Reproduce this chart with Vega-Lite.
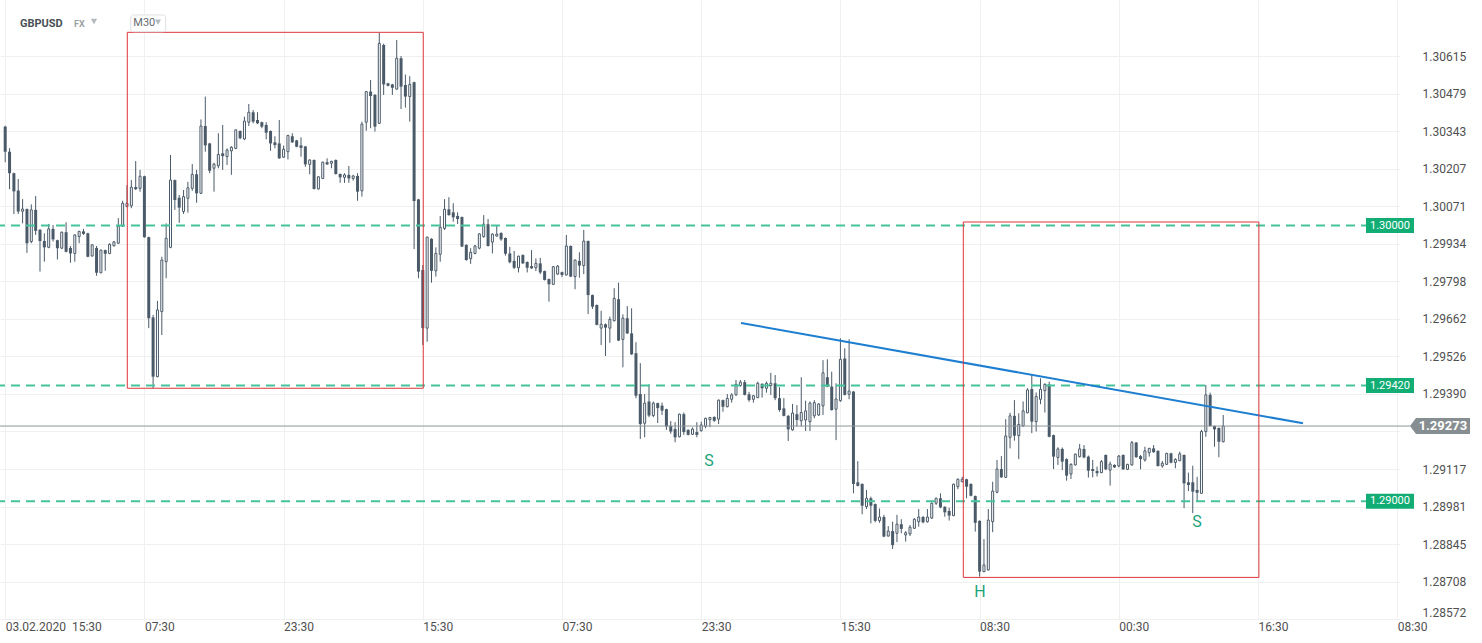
{
"$schema":"https://vega.github.io/schema/vega-lite/v6.json",
"width":1400,"height":620,
"autosize":{"type":"none"},
"padding":{"left":0,"top":0,"right":82,"bottom":23},
"background":"#ffffff",
"config":{"view":{"stroke":null},"axis":{"labelFont":"Roboto","labelFontSize":12,"labelColor":"#505050","gridColor":"#f0f0f0","gridWidth":1,"domain":false,"ticks":false}},
"datasets":{
"candles":[
{"i":0,"o":1.30359,"h":1.30362,"l":1.30230,"c":1.30268},
{"i":1,"o":1.30268,"h":1.30281,"l":1.30132,"c":1.30190},
{"i":2,"o":1.30190,"h":1.30192,"l":1.30042,"c":1.30124},
{"i":3,"o":1.30127,"h":1.30169,"l":1.30042,"c":1.30051},
{"i":4,"o":1.30052,"h":1.30096,"l":1.30008,"c":1.30060},
{"i":5,"o":1.30060,"h":1.30062,"l":1.29901,"c":1.29936},
{"i":6,"o":1.29942,"h":1.30077,"l":1.29936,"c":1.30057},
{"i":7,"o":1.30057,"h":1.30107,"l":1.29966,"c":1.29981},
{"i":8,"o":1.29985,"h":1.29987,"l":1.29833,"c":1.29944},
{"i":9,"o":1.29944,"h":1.29972,"l":1.29869,"c":1.29921},
{"i":10,"o":1.29921,"h":1.30006,"l":1.29918,"c":1.29988},
{"i":11,"o":1.29988,"h":1.30002,"l":1.29942,"c":1.29950},
{"i":12,"o":1.29947,"h":1.29949,"l":1.29877,"c":1.29918},
{"i":13,"o":1.29918,"h":1.29978,"l":1.29915,"c":1.29976},
{"i":14,"o":1.29976,"h":1.30012,"l":1.29903,"c":1.29905},
{"i":15,"o":1.29919,"h":1.29926,"l":1.29865,"c":1.29899},
{"i":16,"o":1.29899,"h":1.29968,"l":1.29869,"c":1.29966},
{"i":17,"o":1.29960,"h":1.29981,"l":1.29936,"c":1.29979},
{"i":18,"o":1.29979,"h":1.29988,"l":1.29966,"c":1.29970},
{"i":19,"o":1.29972,"h":1.29974,"l":1.29885,"c":1.29887},
{"i":20,"o":1.29890,"h":1.29932,"l":1.29887,"c":1.29930},
{"i":21,"o":1.29919,"h":1.29926,"l":1.29818,"c":1.29829},
{"i":22,"o":1.29829,"h":1.29913,"l":1.29827,"c":1.29911},
{"i":23,"o":1.29911,"h":1.29913,"l":1.29836,"c":1.29898},
{"i":24,"o":1.29899,"h":1.29936,"l":1.29896,"c":1.29932},
{"i":25,"o":1.29927,"h":1.29944,"l":1.29924,"c":1.29941},
{"i":26,"o":1.29936,"h":1.30027,"l":1.29934,"c":1.29998},
{"i":27,"o":1.29998,"h":1.30090,"l":1.29995,"c":1.30081},
{"i":28,"o":1.30069,"h":1.30147,"l":1.30067,"c":1.30081},
{"i":29,"o":1.30072,"h":1.30165,"l":1.30063,"c":1.30139},
{"i":30,"o":1.30140,"h":1.30234,"l":1.30129,"c":1.30132},
{"i":31,"o":1.30135,"h":1.30202,"l":1.30123,"c":1.30179},
{"i":32,"o":1.30179,"h":1.30181,"l":1.29956,"c":1.29958},
{"i":33,"o":1.29958,"h":1.29960,"l":1.29628,"c":1.29664},
{"i":34,"o":1.29667,"h":1.29676,"l":1.29410,"c":1.29452},
{"i":35,"o":1.29452,"h":1.29727,"l":1.29450,"c":1.29694},
{"i":36,"o":1.29688,"h":1.29887,"l":1.29603,"c":1.29875},
{"i":37,"o":1.29869,"h":1.30008,"l":1.29809,"c":1.29954},
{"i":38,"o":1.29921,"h":1.30256,"l":1.29918,"c":1.30165},
{"i":39,"o":1.30165,"h":1.30167,"l":1.30057,"c":1.30093},
{"i":40,"o":1.30101,"h":1.30111,"l":1.30010,"c":1.30065},
{"i":41,"o":1.30051,"h":1.30129,"l":1.30042,"c":1.30105},
{"i":42,"o":1.30099,"h":1.30159,"l":1.30047,"c":1.30137},
{"i":43,"o":1.30135,"h":1.30223,"l":1.30126,"c":1.30186},
{"i":44,"o":1.30186,"h":1.30202,"l":1.30083,"c":1.30117},
{"i":45,"o":1.30117,"h":1.30385,"l":1.30115,"c":1.30361},
{"i":46,"o":1.30361,"h":1.30468,"l":1.30268,"c":1.30291},
{"i":47,"o":1.30298,"h":1.30300,"l":1.30190,"c":1.30199},
{"i":48,"o":1.30208,"h":1.30228,"l":1.30123,"c":1.30223},
{"i":49,"o":1.30217,"h":1.30335,"l":1.30208,"c":1.30258},
{"i":50,"o":1.30262,"h":1.30365,"l":1.30202,"c":1.30252},
{"i":51,"o":1.30250,"h":1.30280,"l":1.30220,"c":1.30274},
{"i":52,"o":1.30271,"h":1.30288,"l":1.30184,"c":1.30284},
{"i":53,"o":1.30280,"h":1.30349,"l":1.30277,"c":1.30347},
{"i":54,"o":1.30343,"h":1.30345,"l":1.30313,"c":1.30317},
{"i":55,"o":1.30314,"h":1.30395,"l":1.30310,"c":1.30379},
{"i":56,"o":1.30375,"h":1.30441,"l":1.30361,"c":1.30411},
{"i":57,"o":1.30411,"h":1.30419,"l":1.30371,"c":1.30377},
{"i":58,"o":1.30383,"h":1.30411,"l":1.30368,"c":1.30371},
{"i":59,"o":1.30375,"h":1.30377,"l":1.30353,"c":1.30359},
{"i":60,"o":1.30365,"h":1.30375,"l":1.30313,"c":1.30337},
{"i":61,"o":1.30343,"h":1.30345,"l":1.30271,"c":1.30298},
{"i":62,"o":1.30302,"h":1.30324,"l":1.30280,"c":1.30292},
{"i":63,"o":1.30298,"h":1.30383,"l":1.30242,"c":1.30244},
{"i":64,"o":1.30248,"h":1.30290,"l":1.30246,"c":1.30277},
{"i":65,"o":1.30268,"h":1.30329,"l":1.30240,"c":1.30327},
{"i":66,"o":1.30324,"h":1.30335,"l":1.30300,"c":1.30302},
{"i":67,"o":1.30309,"h":1.30311,"l":1.30284,"c":1.30286},
{"i":68,"o":1.30291,"h":1.30320,"l":1.30250,"c":1.30282},
{"i":69,"o":1.30287,"h":1.30289,"l":1.30213,"c":1.30222},
{"i":70,"o":1.30222,"h":1.30240,"l":1.30186,"c":1.30238},
{"i":71,"o":1.30238,"h":1.30240,"l":1.30131,"c":1.30133},
{"i":72,"o":1.30133,"h":1.30179,"l":1.30131,"c":1.30177},
{"i":73,"o":1.30171,"h":1.30232,"l":1.30169,"c":1.30230},
{"i":74,"o":1.30230,"h":1.30244,"l":1.30220,"c":1.30222},
{"i":75,"o":1.30226,"h":1.30235,"l":1.30208,"c":1.30233},
{"i":76,"o":1.30238,"h":1.30240,"l":1.30185,"c":1.30187},
{"i":77,"o":1.30187,"h":1.30189,"l":1.30155,"c":1.30175},
{"i":78,"o":1.30175,"h":1.30190,"l":1.30155,"c":1.30184},
{"i":79,"o":1.30184,"h":1.30216,"l":1.30155,"c":1.30171},
{"i":80,"o":1.30171,"h":1.30184,"l":1.30163,"c":1.30180},
{"i":81,"o":1.30180,"h":1.30190,"l":1.30090,"c":1.30123},
{"i":82,"o":1.30126,"h":1.30377,"l":1.30105,"c":1.30368},
{"i":83,"o":1.30375,"h":1.30488,"l":1.30344,"c":1.30486},
{"i":84,"o":1.30486,"h":1.30528,"l":1.30353,"c":1.30470},
{"i":85,"o":1.30474,"h":1.30477,"l":1.30341,"c":1.30359},
{"i":86,"o":1.30371,"h":1.30699,"l":1.30368,"c":1.30661},
{"i":87,"o":1.30655,"h":1.30660,"l":1.30474,"c":1.30512},
{"i":88,"o":1.30516,"h":1.30518,"l":1.30505,"c":1.30507},
{"i":89,"o":1.30512,"h":1.30514,"l":1.30474,"c":1.30500},
{"i":90,"o":1.30495,"h":1.30673,"l":1.30493,"c":1.30607},
{"i":91,"o":1.30607,"h":1.30615,"l":1.30423,"c":1.30504},
{"i":92,"o":1.30510,"h":1.30548,"l":1.30428,"c":1.30468},
{"i":93,"o":1.30468,"h":1.30542,"l":1.30377,"c":1.30512},
{"i":94,"o":1.30520,"h":1.30522,"l":1.29915,"c":1.30089},
{"i":95,"o":1.30095,"h":1.30097,"l":1.29809,"c":1.29833},
{"i":96,"o":1.29839,"h":1.29857,"l":1.29567,"c":1.29628},
{"i":97,"o":1.29628,"h":1.29960,"l":1.29579,"c":1.29958},
{"i":98,"o":1.29952,"h":1.29954,"l":1.29793,"c":1.29836},
{"i":99,"o":1.29836,"h":1.29921,"l":1.29815,"c":1.29899},
{"i":100,"o":1.29896,"h":1.30035,"l":1.29869,"c":1.29994},
{"i":101,"o":1.29990,"h":1.30096,"l":1.29984,"c":1.30059},
{"i":102,"o":1.30059,"h":1.30103,"l":1.30036,"c":1.30038},
{"i":103,"o":1.30048,"h":1.30081,"l":1.30014,"c":1.30030},
{"i":104,"o":1.30035,"h":1.30048,"l":1.30006,"c":1.30024},
{"i":105,"o":1.30031,"h":1.30033,"l":1.29922,"c":1.29924},
{"i":106,"o":1.29930,"h":1.29932,"l":1.29873,"c":1.29875},
{"i":107,"o":1.29880,"h":1.29918,"l":1.29861,"c":1.29903},
{"i":108,"o":1.29899,"h":1.29930,"l":1.29896,"c":1.29926},
{"i":109,"o":1.29918,"h":1.29972,"l":1.29914,"c":1.29970},
{"i":110,"o":1.29960,"h":1.30038,"l":1.29956,"c":1.30005},
{"i":111,"o":1.30005,"h":1.30024,"l":1.29924,"c":1.29926},
{"i":112,"o":1.29940,"h":1.29972,"l":1.29899,"c":1.29969},
{"i":113,"o":1.29962,"h":1.30002,"l":1.29960,"c":1.29969},
{"i":114,"o":1.29973,"h":1.29976,"l":1.29945,"c":1.29950},
{"i":115,"o":1.29955,"h":1.29957,"l":1.29891,"c":1.29898},
{"i":116,"o":1.29899,"h":1.29923,"l":1.29863,"c":1.29867},
{"i":117,"o":1.29872,"h":1.29908,"l":1.29842,"c":1.29847},
{"i":118,"o":1.29847,"h":1.29891,"l":1.29830,"c":1.29889},
{"i":119,"o":1.29893,"h":1.29896,"l":1.29861,"c":1.29863},
{"i":120,"o":1.29868,"h":1.29870,"l":1.29830,"c":1.29847},
{"i":121,"o":1.29853,"h":1.29911,"l":1.29843,"c":1.29845},
{"i":122,"o":1.29847,"h":1.29881,"l":1.29835,"c":1.29863},
{"i":123,"o":1.29863,"h":1.29883,"l":1.29824,"c":1.29830},
{"i":124,"o":1.29835,"h":1.29837,"l":1.29801,"c":1.29803},
{"i":125,"o":1.29806,"h":1.29808,"l":1.29724,"c":1.29787},
{"i":126,"o":1.29787,"h":1.29853,"l":1.29785,"c":1.29851},
{"i":127,"o":1.29824,"h":1.29857,"l":1.29822,"c":1.29853},
{"i":128,"o":1.29831,"h":1.29833,"l":1.29813,"c":1.29821},
{"i":129,"o":1.29821,"h":1.29966,"l":1.29819,"c":1.29926},
{"i":130,"o":1.29926,"h":1.29928,"l":1.29813,"c":1.29815},
{"i":131,"o":1.29815,"h":1.29877,"l":1.29769,"c":1.29875},
{"i":132,"o":1.29872,"h":1.29903,"l":1.29811,"c":1.29855},
{"i":133,"o":1.29855,"h":1.29984,"l":1.29824,"c":1.29944},
{"i":134,"o":1.29944,"h":1.29946,"l":1.29679,"c":1.29748},
{"i":135,"o":1.29748,"h":1.29750,"l":1.29698,"c":1.29706},
{"i":136,"o":1.29712,"h":1.29714,"l":1.29638,"c":1.29640},
{"i":137,"o":1.29628,"h":1.29691,"l":1.29567,"c":1.29642},
{"i":138,"o":1.29642,"h":1.29645,"l":1.29527,"c":1.29630},
{"i":139,"o":1.29628,"h":1.29670,"l":1.29575,"c":1.29660},
{"i":140,"o":1.29655,"h":1.29773,"l":1.29652,"c":1.29736},
{"i":141,"o":1.29733,"h":1.29793,"l":1.29581,"c":1.29583},
{"i":142,"o":1.29587,"h":1.29678,"l":1.29486,"c":1.29664},
{"i":143,"o":1.29664,"h":1.29708,"l":1.29607,"c":1.29609},
{"i":144,"o":1.29609,"h":1.29700,"l":1.29531,"c":1.29533},
{"i":145,"o":1.29537,"h":1.29577,"l":1.29374,"c":1.29383},
{"i":146,"o":1.29389,"h":1.29501,"l":1.29226,"c":1.29280},
{"i":147,"o":1.29283,"h":1.29389,"l":1.29232,"c":1.29356},
{"i":148,"o":1.29362,"h":1.29424,"l":1.29305,"c":1.29311},
{"i":149,"o":1.29311,"h":1.29362,"l":1.29305,"c":1.29356},
{"i":150,"o":1.29356,"h":1.29358,"l":1.29284,"c":1.29338},
{"i":151,"o":1.29347,"h":1.29358,"l":1.29313,"c":1.29329},
{"i":152,"o":1.29334,"h":1.29336,"l":1.29259,"c":1.29271},
{"i":153,"o":1.29274,"h":1.29291,"l":1.29245,"c":1.29253},
{"i":154,"o":1.29262,"h":1.29287,"l":1.29214,"c":1.29232},
{"i":155,"o":1.29234,"h":1.29318,"l":1.29232,"c":1.29316},
{"i":156,"o":1.29316,"h":1.29322,"l":1.29241,"c":1.29251},
{"i":157,"o":1.29259,"h":1.29261,"l":1.29239,"c":1.29241},
{"i":158,"o":1.29243,"h":1.29268,"l":1.29241,"c":1.29262},
{"i":159,"o":1.29251,"h":1.29287,"l":1.29232,"c":1.29241},
{"i":160,"o":1.29256,"h":1.29289,"l":1.29253,"c":1.29277},
{"i":161,"o":1.29272,"h":1.29303,"l":1.29265,"c":1.29301},
{"i":162,"o":1.29296,"h":1.29306,"l":1.29269,"c":1.29304},
{"i":163,"o":1.29306,"h":1.29308,"l":1.29288,"c":1.29292},
{"i":164,"o":1.29298,"h":1.29369,"l":1.29280,"c":1.29367},
{"i":165,"o":1.29367,"h":1.29369,"l":1.29325,"c":1.29343},
{"i":166,"o":1.29343,"h":1.29389,"l":1.29341,"c":1.29373},
{"i":167,"o":1.29370,"h":1.29392,"l":1.29358,"c":1.29386},
{"i":168,"o":1.29386,"h":1.29440,"l":1.29383,"c":1.29424},
{"i":169,"o":1.29420,"h":1.29440,"l":1.29416,"c":1.29432},
{"i":170,"o":1.29432,"h":1.29440,"l":1.29384,"c":1.29386},
{"i":171,"o":1.29388,"h":1.29397,"l":1.29361,"c":1.29367},
{"i":172,"o":1.29370,"h":1.29386,"l":1.29358,"c":1.29383},
{"i":173,"o":1.29376,"h":1.29434,"l":1.29374,"c":1.29428},
{"i":174,"o":1.29426,"h":1.29428,"l":1.29376,"c":1.29410},
{"i":175,"o":1.29410,"h":1.29434,"l":1.29394,"c":1.29428},
{"i":176,"o":1.29420,"h":1.29466,"l":1.29386,"c":1.29428},
{"i":177,"o":1.29428,"h":1.29458,"l":1.29367,"c":1.29374},
{"i":178,"o":1.29374,"h":1.29414,"l":1.29325,"c":1.29331},
{"i":179,"o":1.29337,"h":1.29374,"l":1.29308,"c":1.29310},
{"i":180,"o":1.29310,"h":1.29313,"l":1.29219,"c":1.29261},
{"i":181,"o":1.29259,"h":1.29353,"l":1.29256,"c":1.29320},
{"i":182,"o":1.29316,"h":1.29349,"l":1.29271,"c":1.29295},
{"i":183,"o":1.29292,"h":1.29450,"l":1.29271,"c":1.29322},
{"i":184,"o":1.29295,"h":1.29365,"l":1.29255,"c":1.29328},
{"i":185,"o":1.29289,"h":1.29362,"l":1.29255,"c":1.29356},
{"i":186,"o":1.29310,"h":1.29367,"l":1.29301,"c":1.29358},
{"i":187,"o":1.29313,"h":1.29356,"l":1.29310,"c":1.29353},
{"i":188,"o":1.29346,"h":1.29512,"l":1.29313,"c":1.29466},
{"i":189,"o":1.29450,"h":1.29515,"l":1.29414,"c":1.29416},
{"i":190,"o":1.29416,"h":1.29470,"l":1.29329,"c":1.29331},
{"i":191,"o":1.29334,"h":1.29428,"l":1.29222,"c":1.29371},
{"i":192,"o":1.29365,"h":1.29591,"l":1.29361,"c":1.29515},
{"i":193,"o":1.29518,"h":1.29555,"l":1.29384,"c":1.29386},
{"i":194,"o":1.29388,"h":1.29588,"l":1.29370,"c":1.29400},
{"i":195,"o":1.29398,"h":1.29400,"l":1.29029,"c":1.29063},
{"i":196,"o":1.29069,"h":1.29146,"l":1.29054,"c":1.29056},
{"i":197,"o":1.29063,"h":1.29065,"l":1.28953,"c":1.28984},
{"i":198,"o":1.28981,"h":1.29041,"l":1.28972,"c":1.29011},
{"i":199,"o":1.29011,"h":1.29017,"l":1.28920,"c":1.28984},
{"i":200,"o":1.28990,"h":1.28992,"l":1.28924,"c":1.28929},
{"i":201,"o":1.28930,"h":1.28974,"l":1.28922,"c":1.28943},
{"i":202,"o":1.28943,"h":1.28951,"l":1.28870,"c":1.28872},
{"i":203,"o":1.28874,"h":1.28910,"l":1.28872,"c":1.28892},
{"i":204,"o":1.28892,"h":1.28926,"l":1.28827,"c":1.28841},
{"i":205,"o":1.28884,"h":1.28951,"l":1.28852,"c":1.28917},
{"i":206,"o":1.28917,"h":1.28935,"l":1.28884,"c":1.28900},
{"i":207,"o":1.28878,"h":1.28892,"l":1.28854,"c":1.28886},
{"i":208,"o":1.28882,"h":1.28914,"l":1.28874,"c":1.28906},
{"i":209,"o":1.28902,"h":1.28939,"l":1.28900,"c":1.28935},
{"i":210,"o":1.28926,"h":1.28972,"l":1.28908,"c":1.28943},
{"i":211,"o":1.28943,"h":1.28947,"l":1.28920,"c":1.28924},
{"i":212,"o":1.28926,"h":1.28972,"l":1.28923,"c":1.28943},
{"i":213,"o":1.28939,"h":1.28996,"l":1.28936,"c":1.28993},
{"i":214,"o":1.28993,"h":1.29013,"l":1.28987,"c":1.29011},
{"i":215,"o":1.29011,"h":1.29029,"l":1.28975,"c":1.28978},
{"i":216,"o":1.28980,"h":1.28982,"l":1.28944,"c":1.28960},
{"i":217,"o":1.28965,"h":1.28977,"l":1.28930,"c":1.28948},
{"i":218,"o":1.28948,"h":1.29064,"l":1.28946,"c":1.29062},
{"i":219,"o":1.29053,"h":1.29083,"l":1.29044,"c":1.29080},
{"i":220,"o":1.29071,"h":1.29089,"l":1.29069,"c":1.29080},
{"i":221,"o":1.29080,"h":1.29082,"l":1.29011,"c":1.29053},
{"i":222,"o":1.29063,"h":1.29065,"l":1.29018,"c":1.29020},
{"i":223,"o":1.29019,"h":1.29021,"l":1.28890,"c":1.28922},
{"i":224,"o":1.28929,"h":1.28931,"l":1.28727,"c":1.28745},
{"i":225,"o":1.28745,"h":1.28863,"l":1.28743,"c":1.28769},
{"i":226,"o":1.28751,"h":1.28972,"l":1.28749,"c":1.28932},
{"i":227,"o":1.28926,"h":1.29071,"l":1.28888,"c":1.29037},
{"i":228,"o":1.29033,"h":1.29150,"l":1.29029,"c":1.29117},
{"i":229,"o":1.29117,"h":1.29164,"l":1.29085,"c":1.29087},
{"i":230,"o":1.29087,"h":1.29298,"l":1.29085,"c":1.29237},
{"i":231,"o":1.29232,"h":1.29321,"l":1.29192,"c":1.29310},
{"i":232,"o":1.29310,"h":1.29367,"l":1.29220,"c":1.29238},
{"i":233,"o":1.29238,"h":1.29319,"l":1.29153,"c":1.29279},
{"i":234,"o":1.29273,"h":1.29362,"l":1.29271,"c":1.29328},
{"i":235,"o":1.29321,"h":1.29410,"l":1.29319,"c":1.29404},
{"i":236,"o":1.29407,"h":1.29458,"l":1.29247,"c":1.29289},
{"i":237,"o":1.29289,"h":1.29395,"l":1.29253,"c":1.29380},
{"i":238,"o":1.29370,"h":1.29446,"l":1.29352,"c":1.29406},
{"i":239,"o":1.29401,"h":1.29428,"l":1.29322,"c":1.29424},
{"i":240,"o":1.29424,"h":1.29434,"l":1.29232,"c":1.29234},
{"i":241,"o":1.29240,"h":1.29242,"l":1.29117,"c":1.29162},
{"i":242,"o":1.29159,"h":1.29196,"l":1.29132,"c":1.29190},
{"i":243,"o":1.29190,"h":1.29195,"l":1.29113,"c":1.29144},
{"i":244,"o":1.29153,"h":1.29156,"l":1.29075,"c":1.29093},
{"i":245,"o":1.29099,"h":1.29138,"l":1.29081,"c":1.29134},
{"i":246,"o":1.29132,"h":1.29173,"l":1.29130,"c":1.29171},
{"i":247,"o":1.29162,"h":1.29208,"l":1.29159,"c":1.29190},
{"i":248,"o":1.29190,"h":1.29204,"l":1.29156,"c":1.29159},
{"i":249,"o":1.29162,"h":1.29166,"l":1.29086,"c":1.29111},
{"i":250,"o":1.29117,"h":1.29150,"l":1.29087,"c":1.29110},
{"i":251,"o":1.29110,"h":1.29126,"l":1.29090,"c":1.29102},
{"i":252,"o":1.29104,"h":1.29150,"l":1.29102,"c":1.29144},
{"i":253,"o":1.29168,"h":1.29170,"l":1.29113,"c":1.29116},
{"i":254,"o":1.29113,"h":1.29144,"l":1.29057,"c":1.29135},
{"i":255,"o":1.29132,"h":1.29134,"l":1.29121,"c":1.29123},
{"i":256,"o":1.29128,"h":1.29168,"l":1.29123,"c":1.29164},
{"i":257,"o":1.29168,"h":1.29170,"l":1.29114,"c":1.29116},
{"i":258,"o":1.29116,"h":1.29136,"l":1.29113,"c":1.29134},
{"i":259,"o":1.29132,"h":1.29219,"l":1.29129,"c":1.29213},
{"i":260,"o":1.29213,"h":1.29215,"l":1.29158,"c":1.29160},
{"i":261,"o":1.29164,"h":1.29168,"l":1.29116,"c":1.29153},
{"i":262,"o":1.29150,"h":1.29198,"l":1.29144,"c":1.29183},
{"i":263,"o":1.29176,"h":1.29194,"l":1.29162,"c":1.29192},
{"i":264,"o":1.29192,"h":1.29204,"l":1.29176,"c":1.29178},
{"i":265,"o":1.29183,"h":1.29185,"l":1.29126,"c":1.29128},
{"i":266,"o":1.29128,"h":1.29146,"l":1.29122,"c":1.29138},
{"i":267,"o":1.29134,"h":1.29176,"l":1.29132,"c":1.29174},
{"i":268,"o":1.29174,"h":1.29176,"l":1.29138,"c":1.29140},
{"i":269,"o":1.29141,"h":1.29156,"l":1.29120,"c":1.29152},
{"i":270,"o":1.29147,"h":1.29180,"l":1.29146,"c":1.29172},
{"i":271,"o":1.29168,"h":1.29170,"l":1.28975,"c":1.29065},
{"i":272,"o":1.29069,"h":1.29104,"l":1.29037,"c":1.29059},
{"i":273,"o":1.29069,"h":1.29129,"l":1.28957,"c":1.29035},
{"i":274,"o":1.29041,"h":1.29089,"l":1.28999,"c":1.29031},
{"i":275,"o":1.29029,"h":1.29259,"l":1.29027,"c":1.29253},
{"i":276,"o":1.29253,"h":1.29422,"l":1.29234,"c":1.29386},
{"i":277,"o":1.29386,"h":1.29394,"l":1.29271,"c":1.29273},
{"i":278,"o":1.29273,"h":1.29275,"l":1.29198,"c":1.29261},
{"i":279,"o":1.29266,"h":1.29268,"l":1.29160,"c":1.29216},
{"i":280,"o":1.29216,"h":1.29313,"l":1.29214,"c":1.29273}
],
"levels":[{"p":1.30000,"t":"1.30000"},{"p":1.29420,"t":"1.29420"},{"p":1.29000,"t":"1.29000"}],
"trend":[{"i1":169.15,"p1":1.29647,"i2":298.34,"p2":1.29283}],
"boxes":[{"i1":28.07,"i2":96.1,"p1":1.30701,"p2":1.29410},{"i1":220.25,"i2":288.2,"p1":1.30013,"p2":1.28724}],
"notes":[{"i":161.8,"p":1.29146,"t":"S"},{"i":224.09,"p":1.28671,"t":"H"},{"i":273.98,"p":1.28925,"t":"S"}]
},
"layer":[
{"data":{"name":"candles"},"mark":{"type":"rule","color":"#4b5a68","strokeWidth":1},
 "encoding":{
  "x":{"field":"i","type":"quantitative","title":null,"scale":{"domain":[-1.195,320.64],"nice":false,"zero":false,"padding":0},
   "axis":{"orient":"bottom","title":null,"values":[0,32,64,96,128,160,192,224,256,288,320],"grid":true,"labelAlign":"left","labelPadding":1,"labelFlush":false,"labelOverlap":false,"labelBound":false,
   "labelExpr":"['03.02.2020\u00a0\u00a015:30','07:30','23:30','15:30','07:30','23:30','15:30','08:30','00:30','16:30','08:30'][round(datum.value/32)]"}},
  "y":{"field":"l","type":"quantitative","title":null,"scale":{"domain":[1.285695,1.308182],"nice":false,"zero":false,"padding":0},
   "axis":{"orient":"right","title":null,"values":[1.30615,1.30479,1.30343,1.30207,1.30071,1.29934,1.29798,1.29662,1.29526,1.2939,1.29254,1.29117,1.28981,1.28845,1.28708,1.28572],"grid":true,"labelPadding":22,"labelAlign":"left","labelOverlap":false,"labelFlush":1,"labelBound":false,
   "labelExpr":"abs(datum.value - 1.29254) < 0.000001 ? '' : format(datum.value, '.5f')"}},
  "y2":{"field":"h"}
 }},
{"data":{"name":"candles"},"transform":[{"filter":"datum.c < datum.o"}],"mark":{"type":"bar","size":3,"color":"#4b5a68"},
 "encoding":{"x":{"field":"i","type":"quantitative","title":null},"y":{"field":"o","type":"quantitative","title":null},"y2":{"field":"c"}}},
{"data":{"name":"candles"},"transform":[{"filter":"datum.c >= datum.o"}],"mark":{"type":"bar","size":2,"fill":"#ffffff","stroke":"#4b5a68","strokeWidth":1},
 "encoding":{"x":{"field":"i","type":"quantitative","title":null},"y":{"field":"o","type":"quantitative","title":null},"y2":{"field":"c"}}},
{"data":{"name":"levels"},"mark":{"type":"rule","strokeWidth":2,"strokeDash":[9,6],"opacity":1},
 "encoding":{"y":{"field":"p","type":"quantitative","title":null},"color":{"value":"#45c49c"},"stroke":{"value":"#45c49c"}}},
{"data":{"values":[{}]},"mark":{"type":"rule","color":"#8e9699","strokeWidth":1},
 "encoding":{"x":{"datum":-1.195,"type":"quantitative","title":null},"x2":{"datum":323},"y":{"datum":1.29273,"type":"quantitative","title":null}}},
{"data":{"name":"trend"},"mark":{"type":"rule","color":"#1e7fd0","strokeWidth":2},
 "encoding":{"x":{"field":"i1","type":"quantitative","title":null},"x2":{"field":"i2"},"y":{"field":"p1","type":"quantitative","title":null},"y2":{"field":"p2"}}},
{"data":{"name":"boxes"},"mark":{"type":"rect","fillOpacity":0,"stroke":"#e0353a","strokeWidth":1},
 "encoding":{"x":{"field":"i1","type":"quantitative","title":null},"x2":{"field":"i2"},"y":{"field":"p1","type":"quantitative","title":null},"y2":{"field":"p2"}}},
{"data":{"name":"levels"},"mark":{"type":"point","shape":"M-1,-0.3125L1,-0.3125L1,0.3125L-1,0.3125Z","filled":true,"size":2304,"color":"#12ad74","opacity":1,"strokeWidth":0},
 "encoding":{"x":{"datum":318.34,"type":"quantitative","title":null},"y":{"field":"p","type":"quantitative","title":null}}},
{"data":{"name":"levels"},"mark":{"type":"text","color":"#ffffff","font":"Roboto","fontSize":11,"align":"center","baseline":"middle"},
 "encoding":{"x":{"datum":318.34,"type":"quantitative","title":null},"y":{"field":"p","type":"quantitative","title":null},"text":{"field":"t"}}},
{"data":{"values":[{}]},"mark":{"type":"point","shape":"M-1,0L-0.8,-0.2667L1,-0.2667L1,0.2667L-0.8,0.2667Z","filled":true,"size":3600,"color":"#868e91","opacity":1,"strokeWidth":0},
 "encoding":{"x":{"datum":329.84,"type":"quantitative","title":null},"y":{"datum":1.29273,"type":"quantitative","title":null}}},
{"data":{"values":[{}]},"mark":{"type":"text","color":"#ffffff","font":"Roboto","fontSize":13,"fontWeight":"bold","align":"center","baseline":"middle","text":"1.29273"},
 "encoding":{"x":{"datum":330.5,"type":"quantitative","title":null},"y":{"datum":1.29273,"type":"quantitative","title":null}}},
{"data":{"name":"notes"},"mark":{"type":"text","color":"#1ca37a","font":"Roboto","fontSize":16,"align":"center","baseline":"middle"},
 "encoding":{"x":{"field":"i","type":"quantitative","title":null},"y":{"field":"p","type":"quantitative","title":null},"text":{"field":"t"}}},
{"data":{"values":[{}]},"mark":{"type":"text","color":"#4a4f55","font":"Roboto","fontSize":11,"fontWeight":"bold","align":"left","baseline":"middle","text":"GBPUSD"},
 "encoding":{"x":{"datum":3.4,"type":"quantitative","title":null},"y":{"datum":1.30732,"type":"quantitative","title":null}}},
{"data":{"values":[{}]},"mark":{"type":"text","color":"#9aa3a8","font":"Roboto","fontSize":9,"fontWeight":"bold","align":"left","baseline":"middle","text":"FX"},
 "encoding":{"x":{"datum":15.82,"type":"quantitative","title":null},"y":{"datum":1.30732,"type":"quantitative","title":null}}},
{"data":{"values":[{}]},"mark":{"type":"point","shape":"triangle-down","filled":true,"size":40,"color":"#b4b9bc","opacity":1,"strokeWidth":0},
 "encoding":{"x":{"datum":20.41,"type":"quantitative","title":null},"y":{"datum":1.3074,"type":"quantitative","title":null}}},
{"data":{"values":[{}]},"mark":{"type":"rect","fill":"#ffffff","stroke":"#dcdfe1","strokeWidth":1,"cornerRadius":3},
 "encoding":{"x":{"datum":28.85,"type":"quantitative","title":null},"x2":{"datum":36.9},"y":{"datum":1.30764,"type":"quantitative","title":null},"y2":{"datum":1.30703}}},
{"data":{"values":[{}]},"mark":{"type":"text","color":"#666b70","font":"Roboto","fontSize":11,"align":"center","baseline":"middle","text":"M30"},
 "encoding":{"x":{"datum":31.98,"type":"quantitative","title":null},"y":{"datum":1.30734,"type":"quantitative","title":null}}},
{"data":{"values":[{}]},"mark":{"type":"point","shape":"triangle-down","filled":true,"size":35,"color":"#b4b9bc","opacity":1,"strokeWidth":0},
 "encoding":{"x":{"datum":35.13,"type":"quantitative","title":null},"y":{"datum":1.30738,"type":"quantitative","title":null}}}
]
}
